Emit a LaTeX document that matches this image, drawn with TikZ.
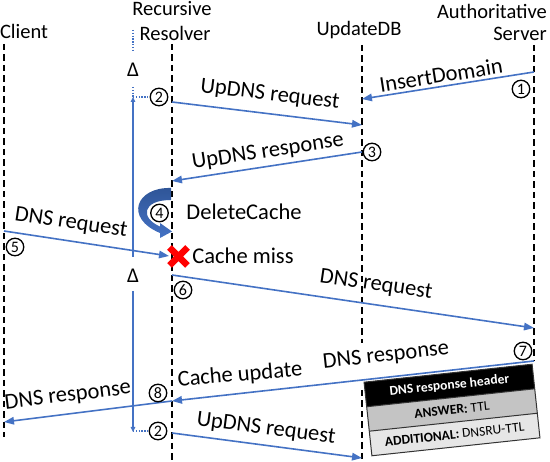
\documentclass[tikz,border=0pt]{standalone}
\usepackage{fontspec}
\setmainfont{Carlito}
\usetikzlibrary{arrows.meta}
\definecolor{ablue}{HTML}{4472C4}
\definecolor{dblue}{HTML}{2F5597}
\definecolor{rowgray}{HTML}{C4C4C4}
\definecolor{rowlight}{HTML}{E6E6E6}
\begin{document}
\begin{tikzpicture}[x=1pt,y=-1pt,
  life/.style={line width=1.9pt, dash pattern=on 6.5pt off 4pt},
  msg/.style={ablue, line width=1.6pt, -{Triangle[length=10pt,width=7.5pt]}},
  lbl/.style={font=\fontsize{22.5}{24}\selectfont, inner sep=0pt},
  hdr/.style={font=\fontsize{20.5}{24}\selectfont, inner sep=0pt},
  num/.style={circle, draw, line width=1.3pt, minimum size=17.5pt, inner sep=0pt, font=\fontsize{16}{16}\selectfont, fill=white},
  delta/.style={ablue, line width=1.3pt},
  dots/.style={ablue, line width=1.3pt, dash pattern=on 1.4pt off 1.4pt},
  dlt/.style={font=\fontsize{21}{21}\selectfont, inner sep=0pt},
  boxtxt/.style={font=\fontsize{13.5}{15}\selectfont, inner sep=0pt},
]
\useasboundingbox (0,0) rectangle (550,462);

% headers
\node[hdr] (hclient) at (24,31) {Client};
\node[hdr] (hrec1) at (172,9) {Recursive};
\node[hdr] (hrec2) at (175,33) {Resolver};
\node[hdr] (hudb) at (359,30) {UpdateDB};
\node[hdr] (hauth1) at (492,11) {Authoritative};
\node[hdr] (hauth2) at (520,34) {Server};

% lifelines
\coordinate (c0) at (4,44);   \coordinate (c1) at (4,437);
\coordinate (r0) at (172,44); \coordinate (r1) at (172,462);
\coordinate (u0) at (362,45); \coordinate (u1) at (362,343);
\coordinate (u2) at (362,390); \coordinate (u3) at (362,460);
\coordinate (s0) at (534,45); \coordinate (s1) at (534,361);
\draw[life] (c0) -- (c1);
\draw[life] (r0) -- (r1);
\draw[life] (u0) -- (u1);
\draw[life] (u2) -- (u3);
\draw[life] (s0) -- (s1);

% delta interval
\coordinate (d0) at (133,30); \coordinate (d1) at (133,52);
\coordinate (d2) at (133,87); \coordinate (d3) at (133,97);
\coordinate (d4) at (133,257); \coordinate (d5) at (133,291);
\coordinate (d6) at (133,432);
\coordinate (h1) at (151,97); \coordinate (h2) at (150,431); \coordinate (h0) at (133,431);
\draw[dots] (d0) -- (d1);
\node[dlt] (delta1) at (133,70) {Δ};
\draw[dots] (d2) -- (d3);
\draw[delta, {Triangle[length=5pt,width=4.5pt]}-] (d3) -- (d4);
\node[dlt] (delta2) at (133,276) {Δ};
\draw[delta, -{Triangle[length=5pt,width=4.5pt]}] (d5) -- (d6);
\draw[dots] (d3) -- (h1);
\draw[dots] (h0) -- (h2);

% message endpoints
\coordinate (a1s) at (534,72);  \coordinate (a1e) at (362,99);
\coordinate (a2s) at (172,102); \coordinate (a2e) at (362,125);
\coordinate (a3s) at (362,152); \coordinate (a3e) at (172,181);
\coordinate (a5s) at (4,231);   \coordinate (a5e) at (169,256);
\coordinate (a6s) at (172,275); \coordinate (a6e) at (534,328);
\coordinate (a7s) at (534,361); \coordinate (a7e) at (172,401);
\coordinate (a8s) at (172,401); \coordinate (a8e) at (4,422);
\coordinate (a9s) at (172,433); \coordinate (a9e) at (362,458);

\draw[msg] (a1s) -- (a1e);
\draw[msg] (a2s) -- (a2e);
\draw[msg] (a3s) -- (a3e);
\draw[msg] (a5s) -- (a5e);
\draw[msg] (a6s) -- (a6e);
\draw[msg] (a7s) -- (a7e);
\draw[msg] (a8s) -- (a8e);
\draw[msg] (a9s) -- (a9e);

% labels
\node[lbl, rotate=8.9] (l1) at (441,75) {InsertDomain};
\node[lbl, rotate=-6.9] (l2) at (270,95) {UpDNS request};
\node[lbl, rotate=8.7] (l3) at (268,152) {UpDNS response};
\node[lbl] (l4) at (244,212) {DeleteCache};
\node[lbl, rotate=-8.5] (l5) at (71,223) {DNS request};
\node[lbl] (lmiss) at (243,256) {Cache miss};
\node[lbl, rotate=-8.3] (l6) at (376,285) {DNS request};
\node[lbl, rotate=6.3] (l7) at (386,356) {DNS response};
\node[lbl, rotate=5] (lcu) at (240,375) {Cache update};
\node[lbl, rotate=7.1] (l8) at (68,396) {DNS response};
\node[lbl, rotate=-7.5] (l9) at (266,429) {UpDNS request};

% DeleteCache curved arrow
\shade[top color=dblue, bottom color=ablue]
  (171,188) .. controls (136,187) and (124,218) .. (160,233)
  -- (160,238) -- (172,231.5) -- (160,223) -- (160,226.5)
  .. controls (140,218) and (142,200) .. (171,200) -- cycle;

% cache miss cross
\draw[red, line width=6.5pt] (169.5,247.5) -- (187.5,265.5) (169.5,265.5) -- (187.5,247.5);

% step numbers
\node[num] (n1) at (521,89) {1};
\node[num] (n2) at (159,97) {2};
\node[num] (n3) at (372,152) {3};
\node[num] (n4) at (159.5,213) {4};
\node[num] (n5) at (15,247) {5};
\node[num] (n6) at (183,290) {6};
\node[num] (n7) at (523,351) {7};
\node[num] (n8) at (158,393) {8};
\node[num] (n2b) at (158,431) {2};

% DNS response header box
\begin{scope}[shift={(452,410)}, rotate=6.1, transform shape]
  \fill[black] (-84.5,-37) rectangle (84.5,-12.3);
  \fill[rowgray] (-84.5,-12.3) rectangle (84.5,12.3);
  \fill[rowlight] (-84.5,12.3) rectangle (84.5,37);
  \draw[line width=1pt, black!80] (-84.5,-37) rectangle (84.5,37);
  \draw[line width=1pt, black!80] (-84.5,-12.3) -- (84.5,-12.3);
  \draw[line width=1pt, black!80] (-84.5,12.3) -- (84.5,12.3);
  \node[boxtxt, text=white] (bh) at (0,-24.6) {\textbf{DNS response header}};
  \node[boxtxt] (ba) at (0,0) {\textbf{ANSWER:} TTL};
  \node[boxtxt] (bd) at (0,24.6) {\textbf{ADDITIONAL:} DNSRU-TTL};
\end{scope}
\end{tikzpicture}
\end{document}
